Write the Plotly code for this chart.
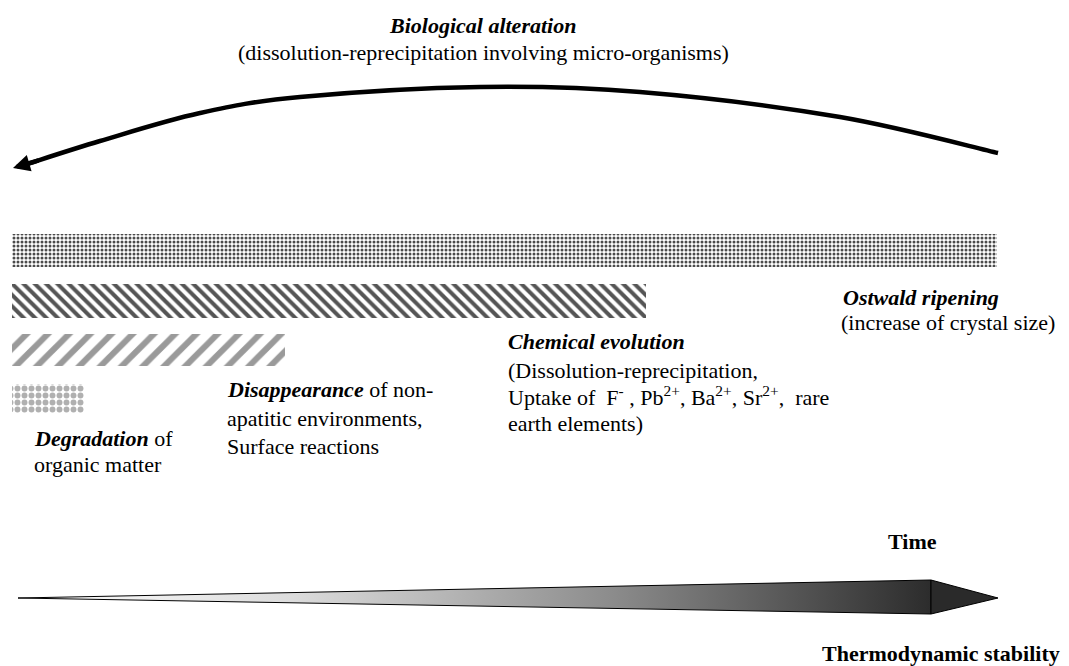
import plotly.graph_objects as go

# ---- data ----
processes = ["Biological alteration / Ostwald ripening", "Chemical evolution",
             "Disappearance of non-apatitic environments", "Degradation of organic matter"]
start_time = [12, 12, 12, 12]
end_time = [997, 646, 285, 84]
bar_thickness = [33, 34, 32, 29]
pattern_shape = [".", "\\", "/", "."]
pattern_color = ["#4a4a4a", "#555555", "#9a9a9a", "#b0b0b0"]
pattern_size = [4, 8, 15, 7]
pattern_solid = [0.45, 0.5, 0.4, 0.55]

W, H = 1069, 666
SERIF = "Liberation Serif"
FS = 22

fig = go.Figure()

row_top = 250
row_step = [0, 51, 100, 148]
for i, name in enumerate(processes):
    fig.add_trace(go.Bar(
        y=[row_top + row_step[i]], x=[end_time[i] - start_time[i]], base=[start_time[i]],
        orientation="h", width=bar_thickness[i], name=name, showlegend=False,
        marker=dict(color="white", line=dict(width=0),
                    pattern=dict(shape=pattern_shape[i], fgcolor=pattern_color[i],
                                 bgcolor="white", size=pattern_size[i],
                                 solidity=pattern_solid[i], fillmode="replace")),
        hoverinfo="skip"))

# gradient wedge (time / thermodynamic stability arrow)
fig.add_trace(go.Scatter(
    x=[18, 931, 931, 18], y=[598, 580, 614, 598], mode="lines", fill="toself",
    line=dict(color="black", width=1),
    fillgradient=dict(type="horizontal",
                      colorscale=[[0, "#ffffff"], [0.3, "#dcdcdc"], [0.65, "#8c8c8c"], [1, "#2c2c2c"]]),
    showlegend=False, hoverinfo="skip"))
fig.add_trace(go.Scatter(
    x=[931, 998, 931, 931], y=[580, 598, 614, 580], mode="lines", fill="toself",
    fillcolor="#2a2a2a", line=dict(color="black", width=1),
    showlegend=False, hoverinfo="skip"))

# curved arrow (Catmull-Rom through guide points -> cubic bezier path)
guide = [(998, 153), (840, 117), (640, 92), (480, 87), (300, 97), (200, 113), (100, 141), (24, 165)]
pts = [guide[0]] + guide + [guide[-1]]
path = f"M {guide[0][0]},{guide[0][1]}"
for k in range(1, len(pts) - 2):
    p0, p1, p2, p3 = pts[k - 1], pts[k], pts[k + 1], pts[k + 2]
    c1 = (p1[0] + (p2[0] - p0[0]) / 6, p1[1] + (p2[1] - p0[1]) / 6)
    c2 = (p2[0] - (p3[0] - p1[0]) / 6, p2[1] - (p3[1] - p1[1]) / 6)
    path += f" C {c1[0]:.1f},{c1[1]:.1f} {c2[0]:.1f},{c2[1]:.1f} {p2[0]},{p2[1]}"
shapes = [dict(type="path", path=path, line=dict(color="black", width=4.5), xref="x", yref="y")]

ann = []
def txt(x, y, s, size=FS, anchor="left"):
    ann.append(dict(x=x, y=y, xref="x", yref="y", text=s, showarrow=False,
                    xanchor=anchor, yanchor="middle",
                    font=dict(family=SERIF, size=size, color="black")))

# arrow head of the curved arrow
ann.append(dict(x=13, y=168, ax=40, ay=160, xref="x", yref="y", axref="x", ayref="y",
                text="", showarrow=True, arrowhead=2, arrowsize=0.75, arrowwidth=4.5,
                arrowcolor="black"))

txt(482, 25, "<b><i>Biological alteration</i></b>", anchor="center")
txt(483, 52, "(dissolution-reprecipitation involving micro-organisms)", anchor="center")
txt(841, 297, "<b><i>Ostwald ripening</i></b>")
txt(839, 322, "(increase of crystal size)")
txt(506, 341, "<b><i>Chemical evolution</i></b>")
txt(506, 370, "(Dissolution-reprecipitation,")
txt(506, 396, "Uptake of  F<sup>-</sup> , Pb<sup>2+</sup>, Ba<sup>2+</sup>, Sr<sup>2+</sup>,  rare")
txt(506, 423, "earth elements)")
txt(225, 389, "<b><i>Disappearance</i></b> of non-")
txt(225, 418, "apatitic environments,")
txt(225, 446, "Surface reactions")
txt(32, 438, "<b><i>Degradation</i></b> of")
txt(32, 464, "organic matter")
txt(912, 541, "<b>Time</b>", anchor="center")
txt(941, 653, "<b>Thermodynamic stability</b>", anchor="center")

fig.update_layout(
    width=W, height=H, margin=dict(l=0, r=0, t=0, b=0),
    paper_bgcolor="white", plot_bgcolor="white",
    xaxis=dict(range=[0, W], visible=False, fixedrange=True),
    yaxis=dict(range=[H, 0], visible=False, fixedrange=True),
    shapes=shapes, annotations=ann, barmode="overlay", bargap=0,
)

fig.write_html("out.html", config={"displayModeBar": False},
               post_script="document.body.style.margin='0px';document.body.style.overflow='hidden';")
